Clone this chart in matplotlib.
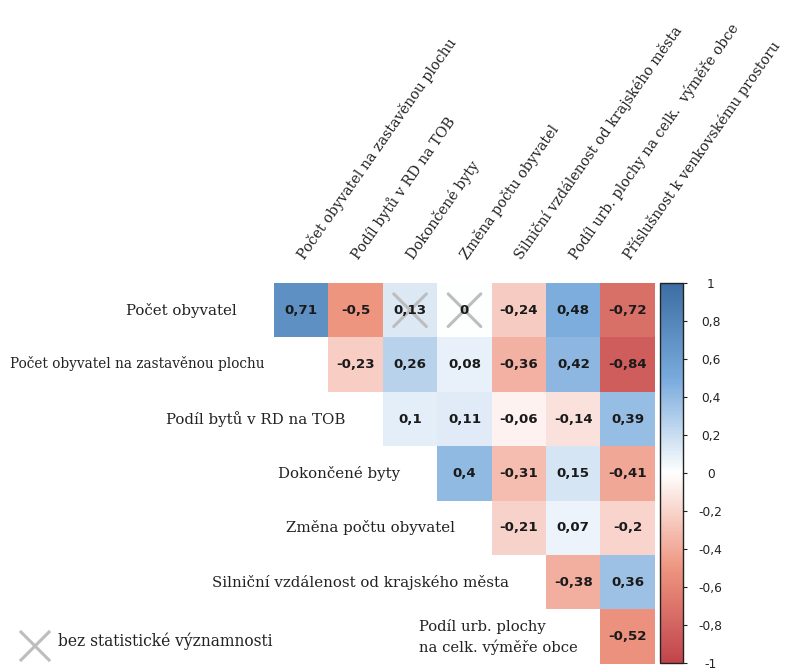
import numpy as np
import matplotlib
matplotlib.use("Agg")
import matplotlib.pyplot as plt
from matplotlib.colors import LinearSegmentedColormap

# popisky radku a sloupcu
radky = ["Počet obyvatel", "Počet obyvatel na zastavěnou plochu", "Podíl bytů v RD na TOB",
         "Dokončené byty", "Změna počtu obyvatel", "Silniční vzdálenost od krajského města",
         "Podíl urb. plochy\nna celk. výměře obce"]
sloupce = ["Počet obyvatel na zastavěnou plochu", "Podíl bytů v RD na TOB", "Dokončené byty",
           "Změna počtu obyvatel", "Silniční vzdálenost od krajského města",
           "Podíl urb. plochy na celk.  výměře obce", "Příslušnost k venkovskému prostoru"]

# korelace (horni trojuhelnik, radek i zacina ve sloupci i)
r0 = [0.71, -0.5, 0.13, 0.0, -0.24, 0.48, -0.72]
r1 = [-0.23, 0.26, 0.08, -0.36, 0.42, -0.84]
r2 = [0.1, 0.11, -0.06, -0.14, 0.39]
r3 = [0.4, -0.31, 0.15, -0.41]
r4 = [-0.21, 0.07, -0.2]
r5 = [-0.38, 0.36]
r6 = [-0.52]
korelace = [r0, r1, r2, r3, r4, r5, r6]

# nevyznamne korelace (radek, sloupec)
nevyznamne = [(0, 2), (0, 3)]

W, H = 790, 670
n = len(sloupce)

M = np.full((n, n), np.nan)
for i, r in enumerate(korelace):
    M[i, i:i + len(r)] = r

cmap = LinearSegmentedColormap.from_list("cz", [
    (0.0, "#c1444b"), (0.25, "#ee9580"), (0.5, "#ffffff"),
    (0.75, "#78aadc"), (1.0, "#3c6ea3")])


def fmt(v):
    s = ("%.2f" % v).rstrip("0").rstrip(".")
    if s in ("-0", ""):
        s = "0"
    return s.replace(".", ",")


fig = plt.figure(figsize=(W / 100, H / 100), dpi=100)
ax = fig.add_axes([274 / W, 1 - 664 / H, (655 - 274) / W, (664 - 283) / H])
im = ax.imshow(np.ma.masked_invalid(M), cmap=cmap, vmin=-1, vmax=1,
               extent=(0, n, n, 0), aspect="auto", interpolation="nearest")
ax.set_xlim(0, n)
ax.set_ylim(n, 0)
ax.axis("off")

serif = "DejaVu Serif"
fs = 10.8

for i in range(n):
    for j in range(i, n):
        ax.text(j + 0.5, i + 0.5, fmt(M[i, j]), ha="center", va="center",
                fontsize=9.6, fontweight="bold", color="#1a1a1a", family="DejaVu Sans")

# krizky pro nevyznamne hodnoty
for i, j in nevyznamne:
    d = 0.3
    ax.plot([j + 0.5 - d, j + 0.5 + d], [i + 0.5 - d, i + 0.5 + d], color="#bdbdbd", lw=2.2,
            solid_capstyle="round")
    ax.plot([j + 0.5 - d, j + 0.5 + d], [i + 0.5 + d, i + 0.5 - d], color="#bdbdbd", lw=2.2,
            solid_capstyle="round")

# popisky sloupcu
for j, lab in enumerate(sloupce):
    ax.text(j + 0.6, -0.38, lab, rotation=55, ha="left", va="bottom", rotation_mode="anchor",
            fontsize=10.3, family=serif, color="#222222", clip_on=False)

# popisky radku
for i, lab in enumerate(radky):
    if i == 1:
        fig.text(10 / W, 1 - (337 + 27) / H, lab, ha="left", va="center",
                 fontsize=9.8, family=serif, color="#222222")
    elif i == n - 1:
        ax.text(2.66, i + 0.5, lab, ha="left", va="center", fontsize=10.6,
                family=serif, color="#222222", linespacing=1.4)
    else:
        ax.text(i - 0.68, i + 0.5, lab, ha="right", va="center", fontsize=fs,
                family=serif, color="#222222")

# barevna skala
cax = fig.add_axes([660 / W, 1 - 663 / H, 23 / W, (663 - 283) / H])
cb = fig.colorbar(im, cax=cax)
ticks = np.round(np.arange(-1, 1.01, 0.2), 1)
cb.set_ticks(ticks)
cb.set_ticklabels([fmt(t) for t in ticks])
cb.ax.tick_params(length=3, width=0.8, pad=17, labelsize=8.8, colors="#222222")
for t in cb.ax.get_yticklabels():
    t.set_ha("center")
cb.outline.set_linewidth(1.0)
cb.outline.set_edgecolor("#222222")

# legenda
fig.add_artist(plt.Line2D([21 / W, 49 / W], [1 - 632 / H, 1 - 660 / H], color="#bdbdbd", lw=2.2))
fig.add_artist(plt.Line2D([21 / W, 49 / W], [1 - 660 / H, 1 - 632 / H], color="#bdbdbd", lw=2.2))
fig.text(58 / W, 1 - 641 / H, "bez statistické významnosti", ha="left", va="center",
         fontsize=11.2, family=serif, color="#222222")

fig.savefig("out.png", dpi=100)
